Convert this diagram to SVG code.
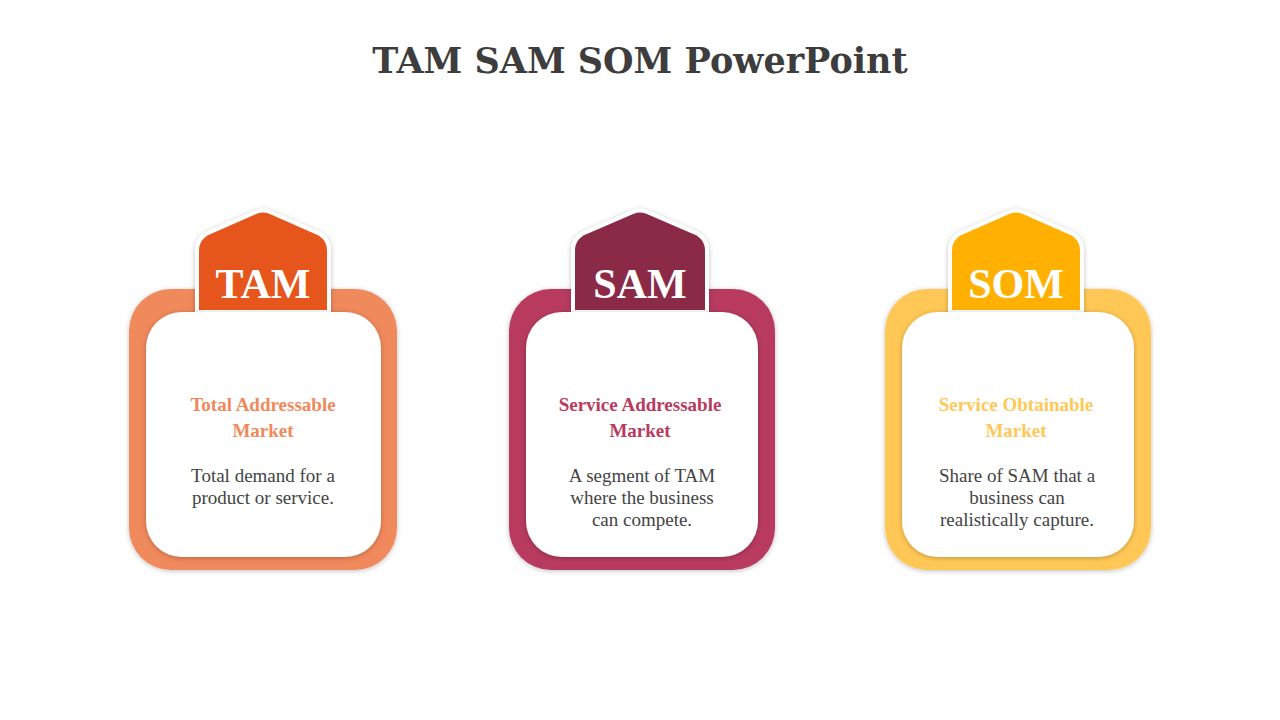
<svg xmlns="http://www.w3.org/2000/svg" width="1280" height="720" viewBox="0 0 1280 720">
<defs>
<filter id="sh" x="-20%" y="-20%" width="140%" height="140%"><feDropShadow dx="0" dy="1" stdDeviation="2.5" flood-color="#000" flood-opacity="0.25"/></filter>
<style>
.t{font-family:"DejaVu Serif","Liberation Serif",serif;}
.title{font-size:35px;font-weight:bold;fill:#3d3d3d;text-anchor:middle}
.tab{font-size:42px;font-weight:bold;fill:#fff;text-anchor:middle;font-family:"Liberation Serif",serif}
.h{font-size:19px;font-weight:bold;text-anchor:middle;font-family:"Liberation Serif",serif}
.b{font-size:19px;fill:#444;text-anchor:middle;font-family:"Liberation Serif",serif}
.inner{fill:#fff;filter:url(#sh)}
.tabs{stroke:#fff;stroke-width:4;filter:url(#sh)}
</style>
</defs>
<text class="t title" x="640" y="73">TAM SAM SOM PowerPoint</text>
<g id="tam">
<rect x="129" y="289" width="268" height="281" rx="42" fill="#F0895C" filter="url(#sh)"/>
<path class="tabs" fill="#E6541A" d="M197,312 V250 Q197,240 206,234 L256,212 Q263,209 270,212 L320,234 Q329,240 329,250 V312 Z"/>
<text class="tab" x="263" y="298">TAM</text>
<rect class="inner" x="146" y="312" width="235" height="245" rx="36"/>
<text class="h" x="263" y="411" fill="#F0895C">Total Addressable</text>
<text class="h" x="263" y="437" fill="#F0895C">Market</text>
<text class="b" x="263" y="482">Total demand for a</text>
<text class="b" x="263" y="504">product or service.</text>
</g>
<g id="sam">
<rect x="509" y="289" width="266" height="281" rx="42" fill="#B83B5E" filter="url(#sh)"/>
<path class="tabs" fill="#8B2A47" d="M573,312 V250 Q573,240 582,234 L633,212 Q640,209 647,212 L698,234 Q707,240 707,250 V312 Z"/>
<text class="tab" x="640" y="298">SAM</text>
<rect class="inner" x="526" y="312" width="232" height="245" rx="36"/>
<text class="h" x="640" y="411" fill="#B83B5E">Service Addressable</text>
<text class="h" x="640" y="437" fill="#B83B5E">Market</text>
<text class="b" x="642" y="482">A segment of TAM</text>
<text class="b" x="642" y="504">where the business</text>
<text class="b" x="642" y="526">can compete.</text>
</g>
<g id="som">
<rect x="885" y="289" width="266" height="281" rx="42" fill="#FFC857" filter="url(#sh)"/>
<path class="tabs" fill="#FFB000" d="M950,312 V250 Q950,240 959,234 L1009,212 Q1016,209 1023,212 L1073,234 Q1082,240 1082,250 V312 Z"/>
<text class="tab" x="1016" y="298">SOM</text>
<rect class="inner" x="902" y="312" width="232" height="245" rx="36"/>
<text class="h" x="1016" y="411" fill="#FFC857">Service Obtainable</text>
<text class="h" x="1016" y="437" fill="#FFC857">Market</text>
<text class="b" x="1017" y="482">Share of SAM that a</text>
<text class="b" x="1017" y="504">business can</text>
<text class="b" x="1017" y="526">realistically capture.</text>
</g>
<g id="connectors"/>
</svg>
